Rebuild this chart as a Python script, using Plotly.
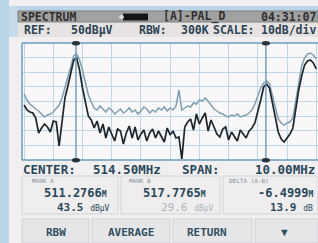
import plotly.graph_objects as go

# ---------------- data ----------------
CENTER_MHZ = 514.5
SPAN_MHZ = 10.0
N_POINTS = 101  # sweep points
FREQ_MHZ = [CENTER_MHZ - SPAN_MHZ / 2 + SPAN_MHZ * i / (N_POINTS - 1) for i in range(N_POINTS)]

# live (dark) trace, dBuV
LIVE_DBUV = [19.0, 16.5, 15.5, 15.0, 12.5, 5.0, 7.5, 9.5, 8.0, 5.5,
             11.0, 10.5, -1.5, 10.5, 22.5, 28.5, 35.5, 41.5, 42.5, 36.5,
             27.5, 20.5, 13.5, 11.5, 7.5, 11.0, 5.0, 9.5, 2.5, 8.0,
             4.5, 1.0, 7.0, 6.0, -0.5, 5.0, 8.5, 2.5, 8.0, 1.5,
             4.5, 6.5, 1.0, 5.0, 7.0, 2.5, 6.0, 3.5, 0.5, 7.5,
             4.0, 6.0, 2.5, 3.0, -8.0, 8.0, 10.5, 12.0, 6.5, 14.5,
             9.5, 12.5, 15.0, 6.0, 11.5, 8.0, 4.5, 3.0, 7.0, 8.0,
             1.5, 5.5, 3.5, 1.0, 6.5, 4.5, 2.5, 6.0, 7.5, 10.0,
             15.5, 21.5, 28.0, 29.5, 27.5, 19.5, 11.5, 5.5, 2.0, 0.5,
             2.5, 4.5, 7.5, 18.0, 26.5, 33.5, 39.0, 41.0, 41.5, 40.0,
             37.0]

# average (grey) trace, dBuV
AVG_DBUV = [24.5, 21.5, 19.5, 18.0, 17.0, 16.0, 14.5, 13.0, 14.0, 14.5,
            15.5, 17.0, 19.0, 22.5, 28.0, 33.5, 39.0, 43.5, 44.5, 41.5,
            36.5, 29.5, 24.0, 20.5, 17.5, 16.5, 18.5, 17.0, 15.5, 17.5,
            16.5, 14.5, 16.0, 17.0, 15.0, 16.0, 17.5, 15.5, 16.5, 14.5,
            16.0, 18.0, 17.0, 15.0, 16.5, 15.5, 17.5, 16.5, 18.0, 16.0,
            17.5, 16.5, 18.5, 26.5, 16.5, 17.5, 18.5, 18.0, 20.0, 19.5,
            21.5, 21.0, 22.5, 21.0, 19.0, 17.0, 16.0, 15.0, 14.5, 13.5,
            13.0, 14.0, 13.5, 14.5, 13.0, 13.5, 14.0, 15.0, 16.5, 19.5,
            23.5, 27.5, 30.0, 31.0, 29.5, 23.5, 16.5, 12.0, 10.0, 9.0,
            10.0, 10.5, 12.5, 21.5, 31.5, 38.5, 42.5, 44.5, 45.0, 44.0,
            42.0]

MARK_A_MHZ = 511.2766
MARK_B_MHZ = 517.7765
MARK_A_DBUV = "43.5"
MARK_B_DBUV = "29.6"
DELTA_MHZ = "-6.4999"
DELTA_DB = "13.9"
REF_LEVEL = 50
Y_BOTTOM = -8.5

HEADER_TEXTS = ["SPECTRUM", "[A]-PAL_D", "04:31:07"]
REF_TEXTS = ["REF:", "50dBμV", "RBW:", "300K", "SCALE:", "10dB/div"]
SOFTKEYS = ["RBW", "AVERAGE", "RETURN", "▼"]

# ---------------- layout helpers ----------------
W, H = 318, 243
L, R, T, B = 22, 0, 43, 83
PW, PH = W - L - R, H - T - B
X_LO, X_HI = 509.43, 519.56


def xp(px):
    return (px - L) / PW


def yp(py):
    return (H - B - py) / PH


FONT = "DejaVu Sans Mono"
TXT = "#29485a"
HDR = "#2e2e2e"

fig = go.Figure()
fig.add_trace(go.Scatter(x=FREQ_MHZ, y=AVG_DBUV, mode="lines",
                         line=dict(color="#7f9fb1", width=1.5), hoverinfo="skip"))
fig.add_trace(go.Scatter(x=FREQ_MHZ, y=LIVE_DBUV, mode="lines",
                         line=dict(color="#1c262c", width=1.7), hoverinfo="skip"))

shapes = []


def rect(x0, y0, x1, y1, fill, line=None, lw=0, layer="below", kind="rect"):
    shapes.append(dict(type=kind, xref="paper", yref="paper",
                       x0=xp(x0), x1=xp(x1), y0=yp(y0), y1=yp(y1),
                       fillcolor=fill, line=dict(color=line or fill, width=lw),
                       layer=layer))


def hline(x0, x1, y, color, w=1.5):
    shapes.append(dict(type="line", xref="paper", yref="paper", x0=xp(x0), x1=xp(x1),
                       y0=yp(y), y1=yp(y), line=dict(color=color, width=w), layer="above"))


def vline(x, y0, y1, color, w=1.5):
    shapes.append(dict(type="line", xref="paper", yref="paper", x0=xp(x), x1=xp(x),
                       y0=yp(y0), y1=yp(y1), line=dict(color=color, width=w), layer="above"))


# bezel
rect(0, 0, 9, 243, "#bad4e8")
rect(9, 6, 318, 11, "#bad4e8")
rect(9, 6, 18, 37, "#c6dbea")
# header bar
rect(18, 11, 318, 22, "#a1a1a1", "#7c7c7c", 1)
# battery
rect(123, 13.5, 148, 20.5, "#151515", layer="above")
rect(119, 15, 124, 19, "#d9d9d9", layer="above", kind="circle")
# REF row
rect(18, 23, 318, 37, "#e7e3e3")
# marker value boxes
for x0, x1 in [(22, 118), (121, 220), (223, 318)]:
    rect(x0, 176, x1, 214, "#efeded", "#d3d3d8", 1)
# softkeys
for x0, x1 in [(22, 89), (92, 170), (173, 252), (255, 318)]:
    rect(x0, 219, x1, 243, "#e6e6e9", "#cfd0d6", 1)

# plot frame (right edge is cut off)
FRAME = "#6a9dc0"
hline(22, 318, 43, FRAME)
hline(22, 318, 160, FRAME)
vline(22, 43, 160, FRAME)

# markers
for m in (MARK_A_MHZ, MARK_B_MHZ):
    shapes.append(dict(type="line", xref="x", yref="paper", x0=m, x1=m, y0=0, y1=1,
                       line=dict(color="#5f93b6", width=1.3), layer="above"))
px_a = L + (MARK_A_MHZ - X_LO) / (X_HI - X_LO) * PW
px_b = L + (MARK_B_MHZ - X_LO) / (X_HI - X_LO) * PW
for pxm in (px_a, px_b):
    rect(pxm - 4, 41, pxm + 4, 45.5, "#25333b", layer="above", kind="circle")
    rect(pxm - 4, 158, pxm + 4, 162.5, "#25333b", layer="above", kind="circle")

ann = []


def text(x, y, s, size, color, anchor="left"):
    ann.append(dict(x=xp(x), y=yp(y), xref="paper", yref="paper", text=s, showarrow=False,
                    xanchor=anchor, yanchor="middle", borderpad=0,
                    font=dict(family=FONT, size=size, color=color)))


# header
text(20, 17, "<b>%s</b>" % HEADER_TEXTS[0], 11.5, HDR)
text(162, 17, "<b>%s</b>" % HEADER_TEXTS[1], 11.5, HDR)
text(317, 17, "<b>%s</b>" % HEADER_TEXTS[2], 11.5, HDR, anchor="right")
# REF row
for s, x in zip(REF_TEXTS[:-1], [23, 70, 138, 180, 212]):
    text(x, 30.5, "<b>%s</b>" % s, 11.5, "#2d4454")
text(317, 30.5, "<b>%s</b>" % REF_TEXTS[-1], 11.5, "#2d4454", anchor="right")
# center / span row
text(22, 169, "<b>CENTER:</b>", 12.5, TXT)
text(92, 169, "<b>%.2fMHz</b>" % CENTER_MHZ, 12.5, TXT)
text(181, 169, "<b>SPAN:</b>", 12.5, TXT)
text(316, 169, "<b>%.2fMHz</b>" % SPAN_MHZ, 12.5, TXT, anchor="right")
# marker labels
text(31, 180, "MARK A", 6, "#7b8e9a")
text(128, 180, "MARK B", 6, "#7b8e9a")
text(228, 180, "DELTA (A-B)", 6, "#7b8e9a")
SMALL = "<span style='font-size:8px'>%s</span>"
text(43, 193, "<b>%.4f</b>" % MARK_A_MHZ + SMALL % "<b>M</b>", 12, TXT)
text(142, 193, "<b>%.4f</b>" % MARK_B_MHZ + SMALL % "<b>M</b>", 12, TXT)
text(315, 193, "<b>%s</b>" % DELTA_MHZ + SMALL % "<b>M</b>", 12, TXT, anchor="right")
text(56, 208, "<b>%s </b>" % MARK_A_DBUV + SMALL % "dBμV", 11, TXT)
text(160, 208, "%s " % MARK_B_DBUV + SMALL % "dBμV", 11, "#aab6be")
text(314, 208, "<b>%s </b>" % DELTA_DB + SMALL % "dB", 11, TXT, anchor="right")
# softkeys
for s, x in zip(SOFTKEYS, [56, 131, 207, 284]):
    text(x, 232, "<b>%s</b>" % s, 11, "#33505f", anchor="center")

fig.update_layout(
    width=W, height=H, margin=dict(l=L, r=R, t=T, b=B, pad=0),
    paper_bgcolor="#f1efef", plot_bgcolor="#f9f7f7",
    showlegend=False, shapes=shapes, annotations=ann,
    xaxis=dict(range=[X_LO, X_HI], tickvals=[509.5 + k for k in range(11)],
               showticklabels=False, ticks="", showgrid=True, gridcolor="#bcd7e8",
               gridwidth=1, zeroline=False, showline=False, fixedrange=True),
    yaxis=dict(range=[Y_BOTTOM, REF_LEVEL],
               tickvals=[REF_LEVEL - k * (REF_LEVEL - Y_BOTTOM) / 8 for k in range(9)],
               showticklabels=False, ticks="", showgrid=True, gridcolor="#bcd7e8",
               gridwidth=1, zeroline=False, showline=False, fixedrange=True),
)

fig.write_html("out.html", config={"displayModeBar": False},
               post_script="document.body.style.margin='0px';document.body.style.padding='0px';")
